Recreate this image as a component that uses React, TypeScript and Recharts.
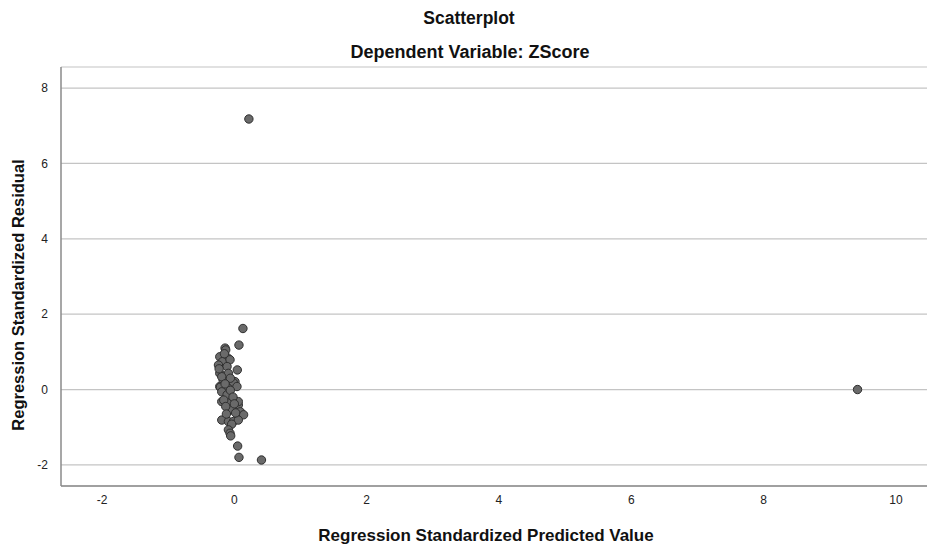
import React from "react";
import {
  ScatterChart,
  Scatter,
  XAxis,
  YAxis,
  CartesianGrid,
  Label,
} from "recharts";

// Regression Standardized Predicted Value
const predicted = [
  0.22, 9.42, 0.13, 0.07, 0.41, 0.07, 0.05,
  -0.14, -0.13, -0.1, -0.22, -0.18, -0.065, -0.24, -0.11, 0.045, -0.09,
  -0.22, -0.17, -0.19, 0.01, -0.04, -0.015, -0.22, -0.09, 0.04, -0.21,
  -0.11, -0.19, -0.11, -0.06, -0.19, -0.09, -0.16, 0.06, 0.06, -0.04,
  0.09, 0.14, -0.19, -0.09, -0.015, 0.06, -0.04, -0.09, -0.065, -0.055,
  -0.13, -0.02, 0.02, -0.15, -0.06, -0.12, 0.0, -0.23, -0.14,
];

// Regression Standardized Residual
const residual = [
  7.18, 0.0, 1.62, 1.18, -1.87, -1.8, -1.5,
  1.1, 1.05, 0.84, 0.87, 0.74, 0.79, 0.65, 0.61, 0.52, 0.43,
  0.43, 0.25, 0.34, 0.21, 0.17, 0.18, 0.08, 0.03, 0.08, 0.06,
  -0.01, -0.06, -0.14, -0.02, -0.32, -0.36, -0.28, -0.41, -0.32, -0.54,
  -0.59, -0.67, -0.81, -0.85, -0.85, -0.81, -0.92, -1.07, -1.16, -1.23,
  -0.45, -0.2, -0.62, 0.95, 0.3, -0.65, -0.38, 0.55, 0.15,
];

const xTicks = [-2, 0, 2, 4, 6, 8, 10];
const yTicks = [-2, 0, 2, 4, 6, 8];

const points = predicted.map((x, i) => ({ x, y: residual[i] }));

const FONT = "'Liberation Sans', Arial, sans-serif";

const labelStyle = {
  fontWeight: "bold" as const,
  fill: "#111",
  fontFamily: FONT,
};

const Dot = (props: any) => (
  <circle
    cx={props.cx}
    cy={props.cy}
    r={4.2}
    fill="#6a6a6a"
    stroke="#2f2f2f"
    strokeWidth={1}
  />
);

const XLabel = () => (
  <text x={486} y={541} textAnchor="middle" fontSize={17} style={labelStyle}>
    Regression Standardized Predicted Value
  </text>
);

const YLabel = () => (
  <text
    x={0}
    y={0}
    textAnchor="middle"
    fontSize={16.5}
    transform="translate(24 295) rotate(-90)"
    style={labelStyle}
  >
    Regression Standardized Residual
  </text>
);

const App: React.FC = () => {
  return (
    <div
      style={{
        position: "fixed",
        left: 0,
        top: 0,
        width: 927,
        height: 545,
        background: "#fff",
        fontFamily: FONT,
      }}
    >
      <div
        style={{
          position: "absolute",
          left: 0,
          width: 938,
          top: 8,
          textAlign: "center",
          fontSize: 17.5,
          fontWeight: "bold",
          color: "#111",
        }}
      >
        Scatterplot
      </div>
      <div
        style={{
          position: "absolute",
          left: 0,
          width: 940,
          top: 42,
          textAlign: "center",
          fontSize: 18,
          fontWeight: "bold",
          color: "#111",
        }}
      >
        Dependent Variable: ZScore
      </div>
      <ScatterChart
        width={927}
        height={545}
        margin={{ top: 67, right: 0, bottom: 0, left: 0 }}
        style={{ position: "absolute", left: 0, top: 0 }}
      >
        <CartesianGrid
          horizontal
          vertical={false}
          stroke="#c4c4c4"
          strokeWidth={1.2}
        />
        <XAxis
          type="number"
          dataKey="x"
          domain={[-2.62, 10.47]}
          ticks={xTicks}
          allowDataOverflow
          height={59}
          tickLine={false}
          tickSize={0}
          tickMargin={9}
          stroke="#8a8a8a"
          strokeWidth={1.5}
          tick={{ fontSize: 12, fill: "#222", fontFamily: FONT }}
        >
          <Label content={<XLabel />} />
        </XAxis>
        <YAxis
          type="number"
          dataKey="y"
          domain={[-2.56, 8.56]}
          ticks={yTicks}
          allowDataOverflow
          width={61}
          tickLine={false}
          tickSize={0}
          tickMargin={13}
          stroke="#8a8a8a"
          strokeWidth={1.5}
          tick={{ fontSize: 12, fill: "#222", fontFamily: FONT }}
        >
          <Label content={<YLabel />} />
        </YAxis>
        <Scatter data={points} shape={Dot} isAnimationActive={false} />
      </ScatterChart>
    </div>
  );
};

export default App;
